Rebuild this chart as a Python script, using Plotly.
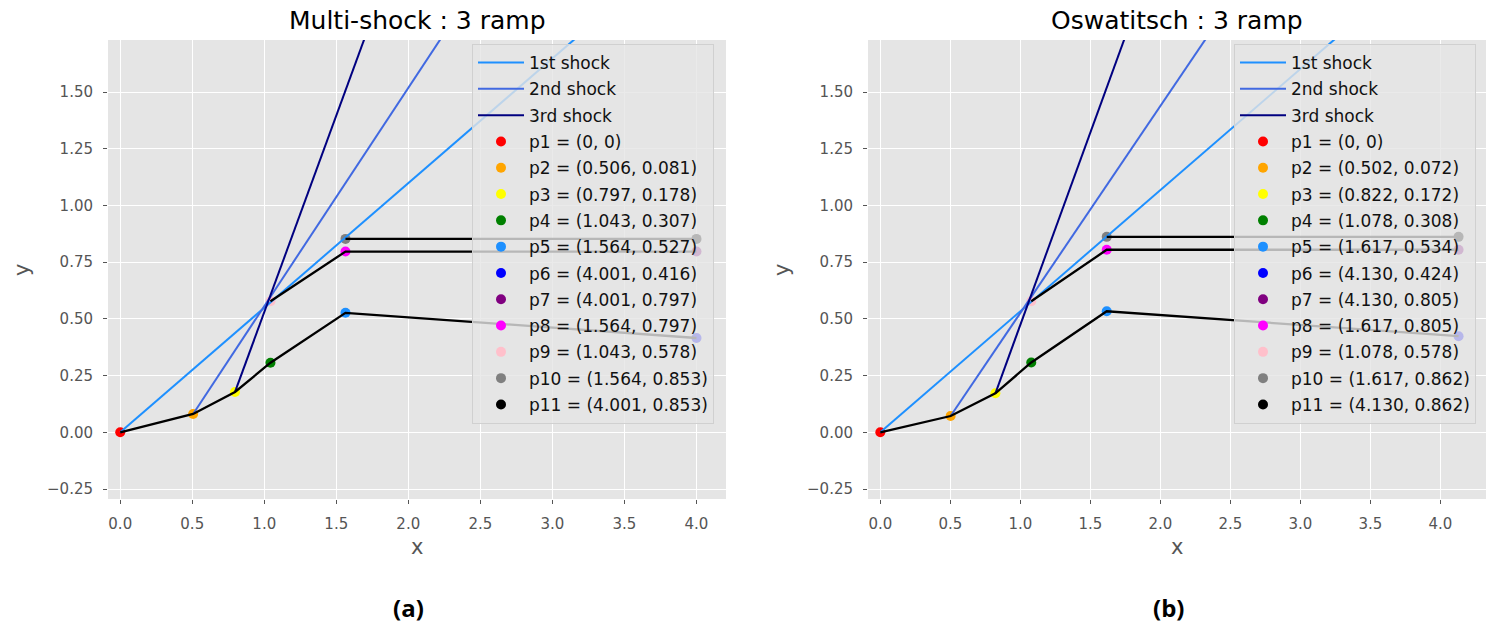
import plotly.graph_objects as go

# ---------------- data ----------------
point_names = ["p1", "p2", "p3", "p4", "p5", "p6", "p7", "p8", "p9", "p10", "p11"]
point_colors = ["#FF0000", "#FFA500", "#FFFF00", "#008000", "#1E90FF", "#0000FF",
                "#800080", "#FF00FF", "#FFC0CB", "#808080", "#000000"]

# (a) Multi-shock
a_px = [0.0, 0.506, 0.797, 1.043, 1.564, 4.001, 4.001, 1.564, 1.043, 1.564, 4.001]
a_py = [0.0, 0.081, 0.178, 0.307, 0.527, 0.416, 0.797, 0.797, 0.578, 0.853, 0.853]
a_plabels = ["(0, 0)", "(0.506, 0.081)", "(0.797, 0.178)", "(1.043, 0.307)", "(1.564, 0.527)",
             "(4.001, 0.416)", "(4.001, 0.797)", "(1.564, 0.797)", "(1.043, 0.578)",
             "(1.564, 0.853)", "(4.001, 0.853)"]
a_shock1_x = [0.0, 3.64]
a_shock1_y = [0.0, 2.0]
a_shock2_x = [0.506, 2.50]
a_shock2_y = [0.081, 2.0]
a_shock3_x = [0.797, 1.848]
a_shock3_y = [0.178, 2.0]

# (b) Oswatitsch
b_px = [0.0, 0.502, 0.822, 1.078, 1.617, 4.130, 4.130, 1.617, 1.078, 1.617, 4.130]
b_py = [0.0, 0.072, 0.172, 0.308, 0.534, 0.424, 0.805, 0.805, 0.578, 0.862, 0.862]
b_plabels = ["(0, 0)", "(0.502, 0.072)", "(0.822, 0.172)", "(1.078, 0.308)", "(1.617, 0.534)",
             "(4.130, 0.424)", "(4.130, 0.805)", "(1.617, 0.805)", "(1.078, 0.578)",
             "(1.617, 0.862)", "(4.130, 0.862)"]
b_shock1_x = [0.0, 3.745]
b_shock1_y = [0.0, 2.0]
b_shock2_x = [0.502, 2.615]
b_shock2_y = [0.072, 2.0]
b_shock3_x = [0.822, 1.900]
b_shock3_y = [0.172, 2.0]

# wall segments as index chains into the point lists
wall_chains = [[0, 1, 2, 3, 4, 5], [8, 7, 6], [9, 10]]

shock_names = ["1st shock", "2nd shock", "3rd shock"]
shock_colors = ["#1E90FF", "#4169E1", "#000080"]

titles = ["Multi-shock : 3 ramp", "Oswatitsch : 3 ramp"]
captions = ["(a)", "(b)"]

x_ticks = [0.0, 0.5, 1.0, 1.5, 2.0, 2.5, 3.0, 3.5, 4.0]
y_ticks = [-0.25, 0.0, 0.25, 0.5, 0.75, 1.0, 1.25, 1.5]

# ---------------- figure ----------------
W, H = 1491, 624
fig = go.Figure()

panels = [
    dict(px=a_px, py=a_py, labels=a_plabels,
         shocks=[(a_shock1_x, a_shock1_y), (a_shock2_x, a_shock2_y), (a_shock3_x, a_shock3_y)],
         xa="x", ya="y", legend="legend", xr=[-0.085, 4.206],
         dom=[108 / W, 726 / W]),
    dict(px=b_px, py=b_py, labels=b_plabels,
         shocks=[(b_shock1_x, b_shock1_y), (b_shock2_x, b_shock2_y), (b_shock3_x, b_shock3_y)],
         xa="x2", ya="y2", legend="legend2", xr=[-0.088, 4.326],
         dom=[868 / W, 1486 / W]),
]

for k, p in enumerate(panels):
    # scatter points first (drawn beneath the lines)
    for j in range(len(point_names)):
        fig.add_trace(go.Scatter(x=[p["px"][j]], y=[p["py"][j]], mode="markers",
                                 name=f"{point_names[j]} = {p['labels'][j]}",
                                 marker=dict(color=point_colors[j], size=10),
                                 xaxis=p["xa"], yaxis=p["ya"], legend=p["legend"],
                                 legendgroup=f"{k}p{j}", legendrank=100 + j))
    for i, (sx, sy) in enumerate(p["shocks"]):
        fig.add_trace(go.Scatter(x=sx, y=sy, mode="lines", name=shock_names[i],
                                 line=dict(color=shock_colors[i], width=2),
                                 xaxis=p["xa"], yaxis=p["ya"], legend=p["legend"],
                                 legendgroup=f"{k}s{i}", legendrank=10 + i,
                                 hoverinfo="skip"))
    for chain in wall_chains:
        fig.add_trace(go.Scatter(x=[p["px"][j] for j in chain], y=[p["py"][j] for j in chain],
                                 mode="lines", line=dict(color="#000000", width=2.3),
                                 showlegend=False, xaxis=p["xa"], yaxis=p["ya"],
                                 hoverinfo="skip"))

axis_common = dict(
    showgrid=True, gridcolor="#FFFFFF", gridwidth=1.2, zeroline=False,
    showline=False, ticks="outside", ticklen=4, tickcolor="#555555",
    tickfont=dict(family="DejaVu Sans", size=15, color="#555555"),
    automargin=False, ticklabelstandoff=7,
)

y_dom = [1 - 499 / H, 1 - 40 / H]
legend_common = dict(
    bgcolor="rgba(229,229,229,0.8)", bordercolor="#D0D0D0", borderwidth=1,
    font=dict(family="DejaVu Sans", size=17, color="#111111"),
    xanchor="left", yanchor="top", tracegroupgap=1.2, traceorder="grouped",
    itemwidth=46,
)

fig.update_layout(
    width=W, height=H,
    margin=dict(l=0, r=0, t=0, b=0),
    paper_bgcolor="#FFFFFF",
    plot_bgcolor="#E5E5E5",
    showlegend=True,
    xaxis=dict(domain=panels[0]["dom"], range=panels[0]["xr"], anchor="y",
               tickvals=x_ticks, tickformat=".1f", **axis_common),
    yaxis=dict(domain=y_dom, range=[-0.294, 1.73], anchor="x",
               tickvals=y_ticks, tickformat=".2f", **axis_common),
    xaxis2=dict(domain=panels[1]["dom"], range=panels[1]["xr"], anchor="y2",
                tickvals=x_ticks, tickformat=".1f", **axis_common),
    yaxis2=dict(domain=y_dom, range=[-0.294, 1.73], anchor="x2",
                tickvals=y_ticks, tickformat=".2f", **axis_common),
    legend=dict(x=472 / W, y=1 - 44 / H, **legend_common),
    legend2=dict(x=1234 / W, y=1 - 44 / H, **legend_common),
)

annos = []
for k, p in enumerate(panels):
    cx = (p["dom"][0] + p["dom"][1]) / 2
    annos.append(dict(text=titles[k], x=cx, y=1 - 20 / H, xref="paper", yref="paper",
                      showarrow=False, xanchor="center", yanchor="middle",
                      font=dict(family="DejaVu Sans", size=25, color="#000000")))
    annos.append(dict(text="x", x=cx, y=1 - 547 / H, xref="paper", yref="paper",
                      showarrow=False, xanchor="center", yanchor="middle",
                      font=dict(family="DejaVu Sans", size=21, color="#555555")))
    annos.append(dict(text="y", x=(p["dom"][0] * W - 86) / W, y=1 - 270 / H,
                      xref="paper", yref="paper", textangle=-90,
                      showarrow=False, xanchor="center", yanchor="middle",
                      font=dict(family="DejaVu Sans", size=21, color="#555555")))
    annos.append(dict(text="<b>" + captions[k] + "</b>", x=(408 if k == 0 else 1168) / W,
                      y=1 - 607 / H, xref="paper", yref="paper",
                      showarrow=False, xanchor="center", yanchor="middle",
                      font=dict(family="Open Sans", size=24, color="#000000")))
fig.update_layout(annotations=annos)

fig.write_html("out.html")
